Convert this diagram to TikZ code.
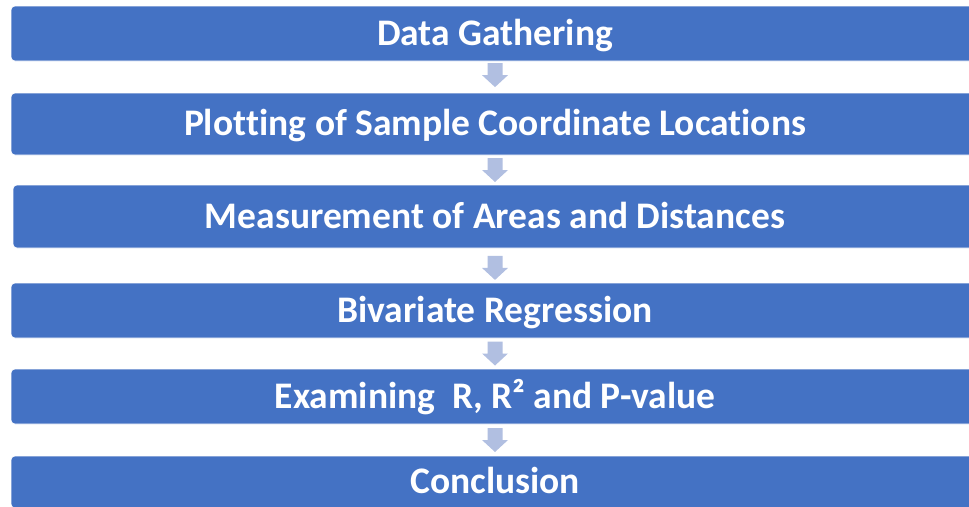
\documentclass[tikz,border=0pt]{standalone}
\usepackage{fontspec}
\setmainfont[Ligatures=NoCommon]{Carlito}
\usetikzlibrary{calc}
\definecolor{stepblue}{HTML}{4472C4}
\definecolor{arrowblue}{HTML}{B1BFE1}
\tikzset{
  stepbox/.style={fill=stepblue, draw=white, line width=0.6pt, rounded corners=4pt,
    minimum width=968pt, inner sep=0pt, text=white,
    font=\bfseries\fontsize{37.5}{42}\selectfont, text height=23pt, text depth=0pt},
  flowarrow/.style={fill=arrowblue, draw=none}
}
% block arrow pointing down, centred on a coordinate
\newcommand{\downblock}[1]{%
  \fill[arrowblue] ($(#1)+(-7.5,-12)$) -- ++(15,0) -- ++(0,12) -- ++(5.5,0)
    -- ($(#1)+(0,12)$) -- ($(#1)+(-13,0)$) -- ++(5.5,0) -- cycle;}
\begin{document}
\begin{tikzpicture}[x=1pt, y=-1pt]
  \useasboundingbox (0,0) rectangle (969,506);
  \clip (0,0) rectangle (969,506);
  \node[stepbox, minimum height=55pt] (b1) at (495,33.5) {Data Gathering};
  \node[stepbox, minimum height=62pt] (b2) at (495,124) {Plot\kern0pt ting of Sample Coordinate Locations};
  \node[stepbox, minimum height=63pt, minimum width=964pt] (b3) at (495,216.5) {Measurement of Areas and Distances};
  \node[stepbox, minimum height=55pt] (b4) at (495,310.5) {Bivariate Regression};
  \node[stepbox, minimum height=55pt] (b5) at (495,396.5) {Examining\ \ R, R² and P-value};
  \node[stepbox, minimum height=52pt] (b6) at (495,482) {Conclusion};
  \coordinate (a1) at ($(b1.south)!0.44!(b2.north)$);
  \coordinate (a2) at ($(b2.south)!0.5!(b3.north)$);
  \coordinate (a3) at ($(b3.south)!0.57!(b4.north)$);
  \coordinate (a4) at ($(b4.south)!0.5!(b5.north)$);
  \coordinate (a5) at ($(b5.south)!0.5!(b6.north)$);
  \foreach \a in {a1,a2,a3,a4,a5} {\downblock{\a}}
\end{tikzpicture}
\end{document}
